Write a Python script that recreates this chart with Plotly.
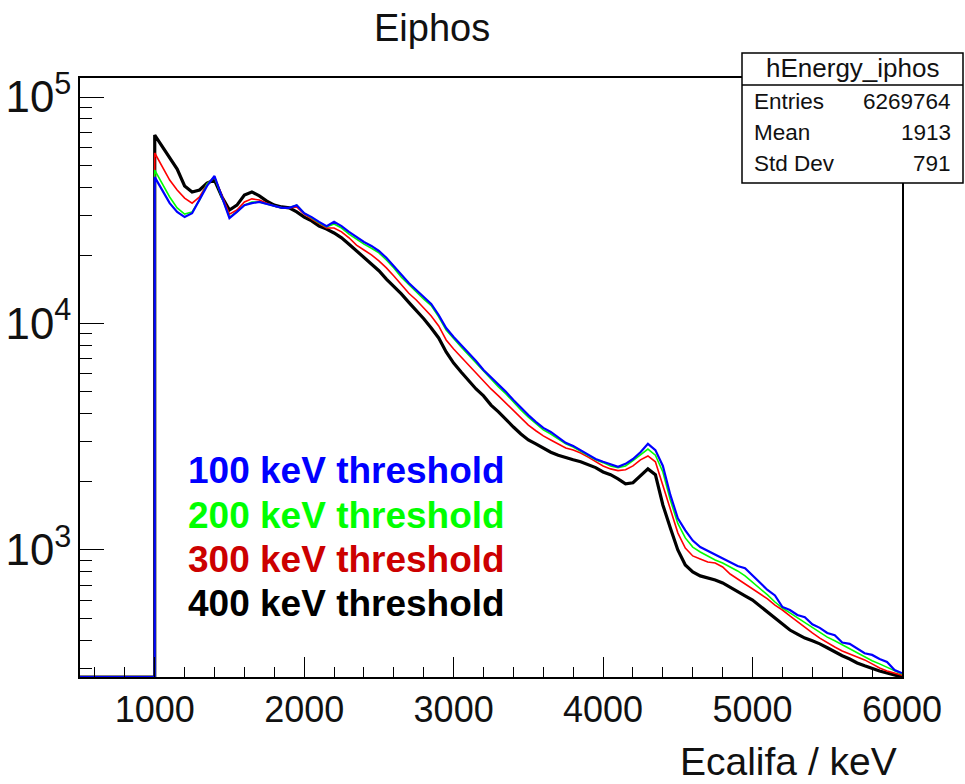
import plotly.graph_objects as go

# ---------------- data ----------------
energy = list(range(1000, 6001, 50))  # keV

counts_100keV = [
    44300, 38850, 34000, 31100, 29500, 30700, 35100, 40500, 44800, 35800,
    29200, 31100, 33300, 34000, 34400, 33700, 33000, 32400, 32400, 33300,
    30700, 29500, 28100, 26900, 28100, 26900, 25400, 24100, 22900, 22000,
    20900, 19500, 17900, 16400, 15100, 14060, 13100, 12200, 10900, 9550,
    8710, 8040, 7410, 6830, 6230, 5800, 5350, 4990, 4590, 4230,
    3940, 3680, 3460, 3320, 3130, 2970, 2880, 2760, 2650, 2520,
    2450, 2380, 2330, 2400, 2520, 2700, 2940, 2760, 2350, 1750,
    1380, 1220, 1100, 1030, 990, 950, 913, 885, 850, 830,
    770, 722, 666, 630, 560, 543, 516, 505, 470, 453,
    430, 420, 390, 385, 368, 350, 344, 330, 320, 295,
    286,
]
counts_200keV = [
    47600, 41700, 36200, 32400, 30400, 31100, 35100, 41300, 44300, 35800,
    29500, 31100, 33300, 34400, 34400, 33700, 33000, 32400, 32400, 33300,
    30700, 29200, 27800, 26700, 27500, 26400, 24800, 23600, 22400, 21500,
    20500, 19070, 17600, 16000, 14800, 13800, 12800, 12000, 10700, 9360,
    8550, 7880, 7260, 6690, 6110, 5690, 5240, 4890, 4500, 4150,
    3860, 3600, 3390, 3250, 3100, 2940, 2850, 2730, 2620, 2500,
    2430, 2350, 2310, 2350, 2480, 2620, 2790, 2620, 2210, 1660,
    1310, 1130, 1030, 980, 941, 903, 876, 841, 808, 768,
    722, 673, 633, 589, 554, 527, 501, 476, 453, 434,
    412, 397, 381, 366, 351, 337, 324, 314, 304, 292,
    283,
]
counts_300keV = [
    56600, 49100, 43000, 38850, 35800, 34000, 36200, 41300, 44300, 36600,
    30400, 31700, 34400, 35500, 35100, 34000, 33000, 32400, 32400, 32700,
    30400, 28900, 27500, 26400, 26400, 25400, 23900, 22200, 21110, 20100,
    18900, 17600, 16200, 14800, 13600, 12700, 11700, 10800, 9750, 8460,
    7720, 7110, 6560, 6040, 5570, 5140, 4790, 4450, 4110, 3830,
    3560, 3360, 3190, 3060, 2940, 2820, 2760, 2680, 2570, 2450,
    2350, 2280, 2240, 2260, 2350, 2500, 2600, 2450, 1940, 1530,
    1190, 1020, 941, 913, 885, 876, 841, 783, 745, 708,
    673, 639, 608, 571, 543, 511, 481, 453, 430, 408,
    389, 373, 358, 348, 337, 327, 314, 301, 292, 286,
    280,
]
counts_400keV = [
    67900, 60800, 54300, 48100, 40500, 38100, 38850, 41700, 43000, 36200,
    31700, 33300, 36900, 38100, 36600, 34700, 33300, 32700, 32400, 31100,
    29500, 28400, 26900, 26100, 25100, 23900, 22400, 20900, 19700, 18300,
    17100, 15700, 14600, 13500, 12400, 11470, 10500, 9550, 8630, 7490,
    6690, 6110, 5570, 5140, 4790, 4360, 4070, 3750, 3490, 3250,
    3060, 2940, 2820, 2700, 2620, 2570, 2500, 2450, 2380, 2310,
    2210, 2150, 2060, 1960, 1980, 2130, 2280, 2150, 1580, 1250,
    1000, 858, 800, 768, 752, 737, 715, 686, 659, 627,
    601, 566, 532, 501, 471, 443, 425, 408, 397, 385,
    370, 355, 341, 330, 317, 308, 299, 292, 286, 280,
    275,
]

series_names = ["400 keV threshold", "300 keV threshold", "200 keV threshold", "100 keV threshold"]
series_data = [counts_400keV, counts_300keV, counts_200keV, counts_100keV]
line_colors = ["#000000", "#ff0000", "#00ff00", "#0000ff"]
text_colors = {"100 keV threshold": "#0000ff", "200 keV threshold": "#00ff00",
               "300 keV threshold": "#cc0000", "400 keV threshold": "#000000"}
line_widths = [3.2, 1.6, 1.6, 2.2]

x_range = [500, 6000]
y_min_log, y_max_log = 2.439, 5.084
y_floor = 10 ** y_min_log

stats_title = "hEnergy_iphos"
stats_rows = [("Entries", "6269764"), ("Mean", "1913"), ("Std Dev", "791")]

FONT = "Liberation Sans, Arial, Helvetica, sans-serif"

# ---------------- figure ----------------
fig = go.Figure()
for name, vals, col, lw in zip(series_names, series_data, line_colors, line_widths):
    xs = [x_range[0], energy[0]] + energy
    ys = [y_floor, y_floor] + vals
    fig.add_trace(go.Scatter(x=xs, y=ys, mode="lines", name=name,
                             line=dict(color=col, width=lw, shape="linear"),
                             showlegend=False, hoverinfo="skip"))

fig.update_layout(
    width=965, height=784,
    margin=dict(l=80, r=63, t=78, b=107, autoexpand=False),
    paper_bgcolor="white", plot_bgcolor="white",
    font=dict(family=FONT, color="#111"),
)

fig.update_xaxes(
    range=x_range, showgrid=False, zeroline=False, automargin=False,
    showline=True, linecolor="black", linewidth=1.5, mirror=True,
    ticks="inside", ticklen=20, tickwidth=1.3, tickcolor="black",
    tick0=0, dtick=1000,
    minor=dict(ticks="inside", ticklen=10, tickwidth=1.2, tickcolor="black", dtick=200, showgrid=False),
    tickfont=dict(size=36, family=FONT, color="#111"),
)
fig.update_yaxes(
    type="log", range=[y_min_log, y_max_log], showgrid=False, zeroline=False, automargin=False,
    showline=True, linecolor="black", linewidth=1.5, mirror=True,
    ticks="inside", ticklen=24, tickwidth=1.3, tickcolor="black",
    tick0=0, dtick=1, exponentformat="power",
    minor=dict(ticks="inside", ticklen=12, tickwidth=1.2, tickcolor="black", dtick="D1", showgrid=False),
    tickfont=dict(size=35, family=FONT, color="#111"),
)

def px2paper_x(px):
    return (px - 80) / 822.0

def px2paper_y(py):
    return (677 - py) / 599.0

annotations = []
annotations.append(dict(text="Eiphos", x=px2paper_x(432), y=px2paper_y(28), xref="paper", yref="paper",
                        showarrow=False, xanchor="center", yanchor="middle",
                        font=dict(size=38, family=FONT, color="#111")))
annotations.append(dict(text="Ecalifa / keV", x=px2paper_x(899), y=px2paper_y(762), xref="paper", yref="paper",
                        showarrow=False, xanchor="right", yanchor="middle",
                        font=dict(size=39, family=FONT, color="#111")))
label_y = [470, 515, 559, 603]
for name, yy in zip(["100 keV threshold", "200 keV threshold", "300 keV threshold", "400 keV threshold"], label_y):
    annotations.append(dict(text="<b>%s</b>" % name, x=px2paper_x(186), y=px2paper_y(yy),
                            xref="paper", yref="paper", showarrow=False,
                            xanchor="left", yanchor="middle",
                            font=dict(size=37, family=FONT, color=text_colors[name])))
box_l, box_r, box_t, box_b, box_sep = 742, 963, 53, 183, 85
shapes = [
    dict(type="rect", xref="paper", yref="paper", layer="above",
         x0=px2paper_x(box_l), x1=px2paper_x(box_r), y0=px2paper_y(box_b), y1=px2paper_y(box_t),
         fillcolor="white", line=dict(color="black", width=1.5)),
    dict(type="line", xref="paper", yref="paper", layer="above",
         x0=px2paper_x(box_l), x1=px2paper_x(box_r), y0=px2paper_y(box_sep), y1=px2paper_y(box_sep),
         line=dict(color="black", width=1.5)),
]
annotations.append(dict(text=stats_title, x=px2paper_x((box_l + box_r) / 2), y=px2paper_y(68),
                        xref="paper", yref="paper", showarrow=False, xanchor="center", yanchor="middle",
                        font=dict(size=26, family=FONT, color="#111")))
for (lab, val), yy in zip(stats_rows, [102, 133, 163]):
    annotations.append(dict(text=lab, x=px2paper_x(752), y=px2paper_y(yy), xref="paper", yref="paper",
                            showarrow=False, xanchor="left", yanchor="middle",
                            font=dict(size=22.5, family=FONT, color="#111")))
    annotations.append(dict(text=val, x=px2paper_x(953), y=px2paper_y(yy), xref="paper", yref="paper",
                            showarrow=False, xanchor="right", yanchor="middle",
                            font=dict(size=22.5, family=FONT, color="#111")))

fig.update_layout(annotations=annotations, shapes=shapes)

fig.write_html("out.html")
